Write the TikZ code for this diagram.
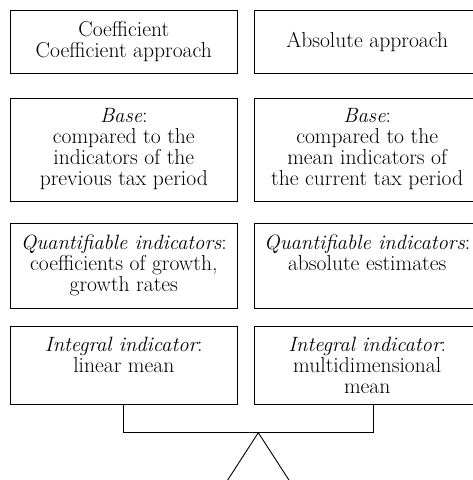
\documentclass[tikz,border=0pt]{standalone}
\usepackage{fontspec}
\usetikzlibrary{calc}
\newcommand\kurs[1]{{\fontsize{20.7}{21}\selectfont\itshape #1}}

\begin{document}
\begin{tikzpicture}[x=1pt,y=-1pt,
  feld/.style={draw,line width=.9pt,align=center,inner sep=0pt,
    minimum width=226.3pt,font=\fontsize{21.6}{21}\selectfont},
  linie/.style={line width=.9pt}]
  \useasboundingbox (0,0) rectangle (472,480);
  % linke Spalte
  \node[feld,minimum height=63pt] (k1) at (123.8,41.5) {Coefficient\\Coefficient approach};
  \node[feld,minimum height=103pt] (k2) at (123.8,149.5) {\kurs{Base}:\\compared to the\\indicators of the\\previous tax period};
  \node[feld,minimum height=85pt] (k3) at (123.8,265.5) {\kurs{Quantifiable indicators}:\\coefficients of growth,\\growth rates};
  \node[feld,minimum height=78.3pt] (k4) at (123.8,365.2) {\kurs{Integral indicator}:\\linear mean\\\vphantom{mean}};
  % rechte Spalte
  \node[feld,minimum height=63pt] (a1) at (367.2,41.5) {Absolute approach};
  \node[feld,minimum height=103pt] (a2) at (367.2,149.5) {\kurs{Base}:\\compared to the\\mean indicators of\\the current tax period};
  \node[feld,minimum height=85pt] (a3) at (367.2,265.5) {\kurs{Quantifiable indicators}:\\absolute estimates\\\vphantom{growth}};
  \node[feld,minimum height=78.3pt] (a4) at (367.2,365.2) {\kurs{Integral indicator}:\\multidimensional\\mean};
  % Klammer und Spitze
  \coordinate (spitze) at (258.3,432.7);
  \draw[linie] (k4.south) |- (spitze) -| ([xshift=6pt]a4.south);
  \draw[linie] ($(spitze)+(-34.5,53.3)$) -- (spitze) -- ($(spitze)+(34.5,53.3)$);
\end{tikzpicture}
\end{document}
